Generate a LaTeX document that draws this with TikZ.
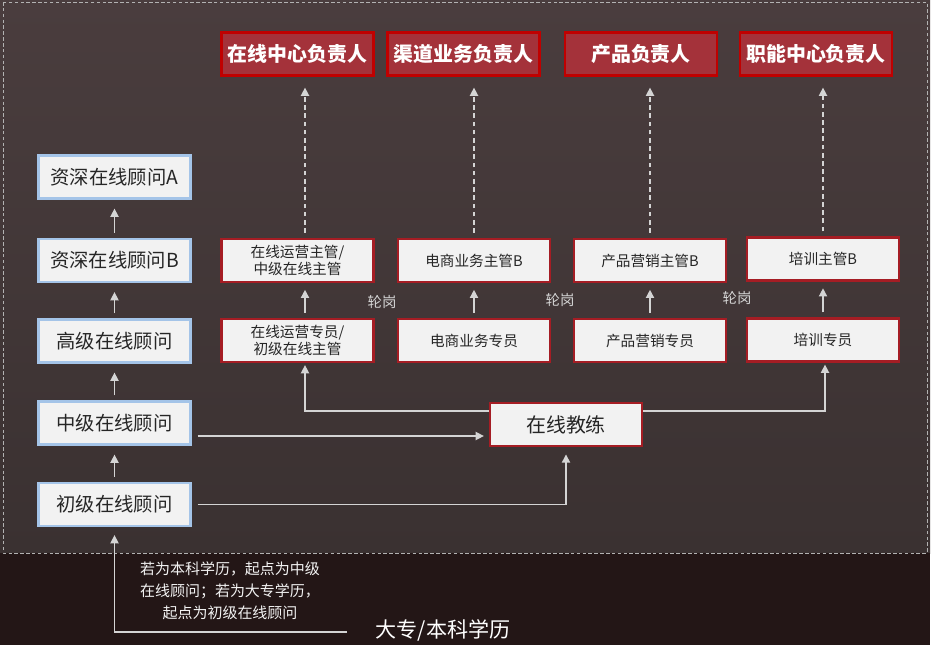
\documentclass[tikz,border=0pt]{standalone}
\usepackage{fontspec}
\setmainfont{Noto Sans CJK SC}
\usetikzlibrary{arrows.meta}
\definecolor{bgtop}{HTML}{4A3D3E}
\definecolor{bgbot}{HTML}{3A3131}
\definecolor{band}{HTML}{231616}
\definecolor{lblue}{HTML}{A4C4E8}
\definecolor{boxfill}{HTML}{F2F2F2}
\definecolor{hred}{HTML}{C00000}
\definecolor{hfill}{HTML}{A4323A}
\definecolor{mred}{HTML}{A51D24}
\definecolor{txt}{HTML}{262626}
\definecolor{arrgray}{HTML}{D4D4D4}

\begin{document}
\begin{tikzpicture}[x=0.03cm, y=-0.03cm,
    box/.style={draw, line width=2.2pt, minimum width=4.55cm, minimum height=1.28cm, inner sep=0pt, align=center},
    lbox/.style={box, draw=lblue, fill=boxfill, text=txt, font=\fontsize{16.5}{20}\selectfont},
    hbox/.style={box, draw=hred, fill=hfill, text=white, font=\bfseries\fontsize{17}{20}\selectfont},
    mbox/.style={box, draw=mred, fill=boxfill, text=txt, font=\fontsize{12.5}{15}\selectfont},
    lab/.style={text=arrgray, font=\fontsize{12.3}{14}\selectfont},
    arr/.style={draw=arrgray, line width=1.2pt, -{Triangle[width=7pt,length=7pt]}},
    darr/.style={arr, dash pattern=on 4pt off 3pt}]

    % background
    \fill[white] (0,0) rectangle (934,645);
    \shade[top color=bgtop, bottom color=bgbot] (0,0) rectangle (930,553);
    \fill[band] (0,553) rectangle (930,645);
    \draw[gray!60, line width=0.8pt, dash pattern=on 3pt off 2pt] (3,2) rectangle (927,553);

    % left column
    \foreach \n/\y/\t in {ca/177/资深在线顾问A, cb/260.5/资深在线顾问B, cg/341/高级在线顾问, cz/423/中级在线顾问, cc/504.5/初级在线顾问}
    \node[lbox] (\n) at (114.5,\y) {\t};
    \foreach \a/\b in {cb/ca, cg/cb, cz/cg, cc/cz}
    \draw[arr, shorten <=0.15cm, shorten >=0.27cm] (\a) -- (\b);

    % heads
    \node[hbox] (h1) at (297.5,54) {在线中心负责人};
    \node[hbox] (h2) at (463.5,54) {渠道业务负责人};
    \node[hbox] (h3) at (641,54) {产品负责人};
    \node[hbox] (h4) at (816,54) {职能中心负责人};

    % supervisors and specialists
    \node[mbox] (m1) at (297.5,260.5) {在线运营主管/\\中级在线主管};
    \node[mbox] (m2) at (474,260.5) {电商业务主管B};
    \node[mbox] (m3) at (650,260.5) {产品营销主管B};
    \node[mbox] (m4) at (823,259) {培训主管B};
    \node[mbox] (s1) at (297.5,340.5) {在线运营专员/\\初级在线主管};
    \node[mbox] (s2) at (474,340.5) {电商业务专员};
    \node[mbox] (s3) at (650,340.5) {产品营销专员};
    \node[mbox] (s4) at (823,340) {培训专员};

    \foreach \x/\y in {382/302, 560/300, 737/298}
    \node[lab] (rot\x) at (\x,\y) {轮岗};

    \foreach \i/\dx in {1/0.225,2/0,3/0,4/0}{
    \draw[darr, shorten <=0.15cm, shorten >=0.33cm] ([xshift=\dx cm]m\i.north) -- ([xshift=\dx cm]m\i.north |- h\i.south);
    \draw[arr, shorten <=0.15cm, shorten >=0.2cm] ([xshift=\dx cm]s\i.north) -- ([xshift=\dx cm]s\i.north |- m\i.south);
    }

    % coach
    \node[mbox, font=\fontsize{17}{20}\selectfont] (k) at (566,424.5) {在线教练};
    \draw[arr, shorten >=0.06cm] ([yshift=0.405cm]k.west) -| ([xshift=0.225cm]s1.south);
    \draw[arr, shorten >=0.06cm] ([yshift=0.405cm]k.east) -| ([xshift=0.06cm]s4.south);
    \draw[arr, shorten <=0.18cm, shorten >=0.15cm] ([yshift=-0.39cm]cz.east) -- ([yshift=-0.39cm]cz.east -| k.west);
    \draw[arr, shorten <=0.18cm, shorten >=0.22cm] (cc.east) -| (k.south);

    % entry
    \node[text=boxfill, align=center, font=\fontsize{12.8}{18.8}\selectfont] (nt) at (230,591)
    {若为本科学历，起点为中级\\在线顾问；若为大专学历，\\起点为初级在线顾问};
    \node[text=white, font=\fontsize{18}{22}\selectfont] (edu) at (443,630) {大专/本科学历};
    \coordinate (e0) at (347,632);
    \draw[arr, shorten >=0.24cm] (e0) -| (cc.south);

\end{tikzpicture}
\end{document}
